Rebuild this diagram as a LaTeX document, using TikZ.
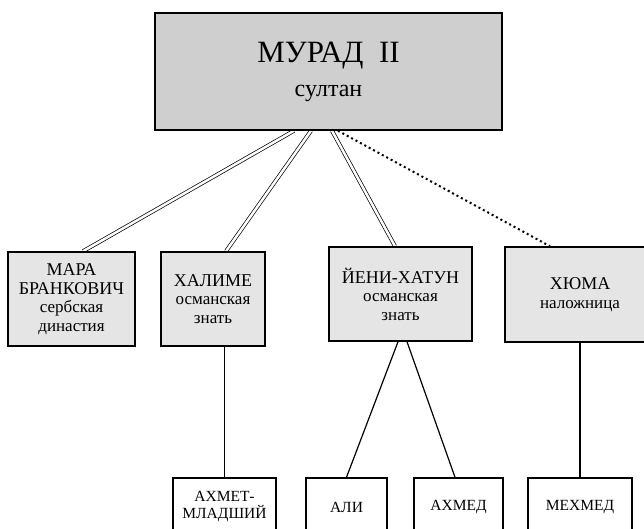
\documentclass[tikz,border=0pt]{standalone}
\usepackage{fontspec}
\setmainfont{Liberation Serif}
\usepackage{tikz}
\usetikzlibrary{positioning,backgrounds}

\tikzset{
    sultanbox/.style={draw, line width=1.5pt, fill=gray!38, minimum width=347pt, minimum height=117pt, align=center, inner sep=0pt, font=\fontsize{24}{34}\selectfont},
    wifebox/.style={draw, line width=1.5pt, fill=gray!20, minimum height=94pt, align=center, inner sep=0pt, font=\fontsize{17}{18.5}\selectfont},
    sonbox/.style={draw, line width=1.5pt, fill=white, minimum height=58pt, align=center, inner sep=0pt, font=\fontsize{15.5}{17}\selectfont},
    marriage/.style={double, double distance=2.5pt, line width=0.7pt},
    concubine/.style={line width=2pt, dash pattern=on 2pt off 3pt},
    descent/.style={line width=1.2pt}
}
\newcommand{\nm}[1]{{\fontsize{18}{18.5}\selectfont #1}}

\begin{document}
\begin{tikzpicture}[x=1pt, y=-1pt]
    \useasboundingbox (0,0) rectangle (644,529);
    \clip (0,0) rectangle (644,529);

    \node[sultanbox] (murad) at (328.5,71.5) {{\fontsize{31}{34}\selectfont МУРАД\ \ II}\\султан};

    \node[wifebox, minimum width=127pt] (mara) at (71.5,299) {\nm{МАРА}\\\nm{БРАНКОВИЧ}\\сербская\\династия};
    \node[wifebox, minimum width=104pt] (halime) at (213,299) {\nm{ХАЛИМЕ}\\османская\\знать};
    \node[wifebox, minimum width=143pt] (yeni) at (400.5,294) {\nm{ЙЕНИ-ХАТУН}\\османская\\знать};
    \node[wifebox, minimum width=150pt, minimum height=95pt] (hyuma) at (580,294.5) {\nm{ХЮМА}\\наложница};

    \node[sonbox, minimum width=103pt] (ahmet) at (224.5,507) {АХМЕТ-\\МЛАДШИЙ};
    \node[sonbox, minimum width=81pt] (ali) at (346.5,507) {АЛИ};
    \node[sonbox, minimum width=89pt] (ahmed) at (458.5,507) {АХМЕД};
    \node[sonbox, minimum width=104pt] (mehmed) at (580,507) {МЕХМЕД};

    \begin{scope}[on background layer]
        \draw[marriage] ([xshift=-34.5pt]murad.south) -- ([xshift=11.5pt]mara.north);
        \draw[marriage] ([xshift=-17.5pt]murad.south) -- ([xshift=13pt]halime.north);
        \draw[marriage] ([xshift=3.5pt]murad.south) -- ([xshift=-5.5pt]yeni.north);
        \draw[concubine] ([xshift=9.5pt]murad.south) -- ([xshift=-30pt]hyuma.north);

        \draw[descent, line width=1.6pt] (ahmet.north) -- (ahmet.north |- halime.south);
        \draw[descent] ([xshift=-2.5pt]yeni.south) -- (ali.north);
        \draw[descent] ([xshift=6.5pt]yeni.south) -- ([xshift=-3.5pt]ahmed.north);
        \draw[descent, line width=1.6pt] (mehmed.north) -- (mehmed.north |- hyuma.south);
    \end{scope}
\end{tikzpicture}
\end{document}
